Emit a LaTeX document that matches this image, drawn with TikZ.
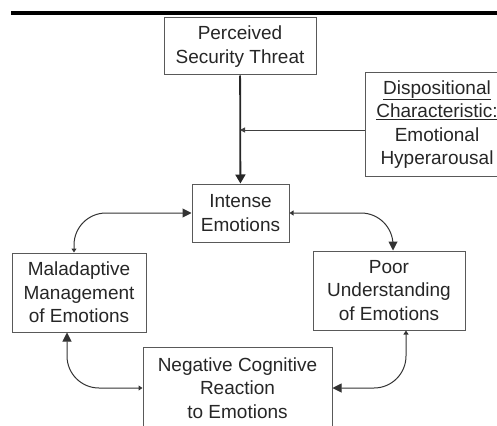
\documentclass[tikz,border=0pt]{standalone}
\usepackage{fontspec}
\setmainfont{Liberation Sans}
\usetikzlibrary{arrows.meta}

\tikzset{
    box/.style={draw=black!65, line width=1pt, text=black!85, align=center,
        inner sep=0pt, font=\fontsize{19}{23.5}\selectfont},
    link/.style={draw=black!80, line width=1pt, rounded corners=32pt,
        {Triangle[length=4pt,width=5pt]}-{Triangle[length=9pt,width=9pt]}},
}

\begin{document}
\begin{tikzpicture}[x=1pt, y=-1pt]
    \useasboundingbox (0,0) rectangle (497,425);
    \clip (0,0) rectangle (497,425);
    \draw[line width=3.5pt] (11,13) -- (497,13);
    % boxes
    \node[box, minimum width=152pt, minimum height=57pt] (threat) at (240,46.5) {Perceived\\Security Threat};
    \node[box, minimum width=144pt, minimum height=103pt] (trait) at (437,124.5) {\underline{Dispositional}\\\underline{Characteristic:}\\Emotional\\Hyperarousal};
    \node[box, minimum width=97pt, minimum height=58pt] (intense) at (240.5,213) {Intense\\Emotions};
    \node[box, minimum width=134pt, minimum height=79pt] (manage) at (79,292.5) {Maladaptive\\Management\\of Emotions};
    \node[box, minimum width=152pt, minimum height=79pt] (understand) at (389,290.5) {Poor\\Understanding\\of Emotions};
    \node[box, minimum width=189pt, minimum height=82pt] (reaction) at (237.5,388) {Negative Cognitive\\Reaction\\to Emotions};
    \coordinate (join) at (240,130);
    % arrows
    \draw[line width=1.8pt, draw=black!85, -{Triangle[length=9pt,width=10pt]}] (threat) -- (intense);
    \draw[draw=black!75, line width=1pt, -{Triangle[length=5pt,width=5pt]}] (trait.west |- join) -- (join);
    \draw[link] ([xshift=-5pt]manage.north) |- (intense.west);
    \draw[link] (intense.east) -| ([xshift=4pt]understand.north);
    \draw[link] (reaction.west) -| ([xshift=-12pt]manage.south);
    \draw[link] ([xshift=17pt]understand.south) |- (reaction.east);
\end{tikzpicture}
\end{document}
